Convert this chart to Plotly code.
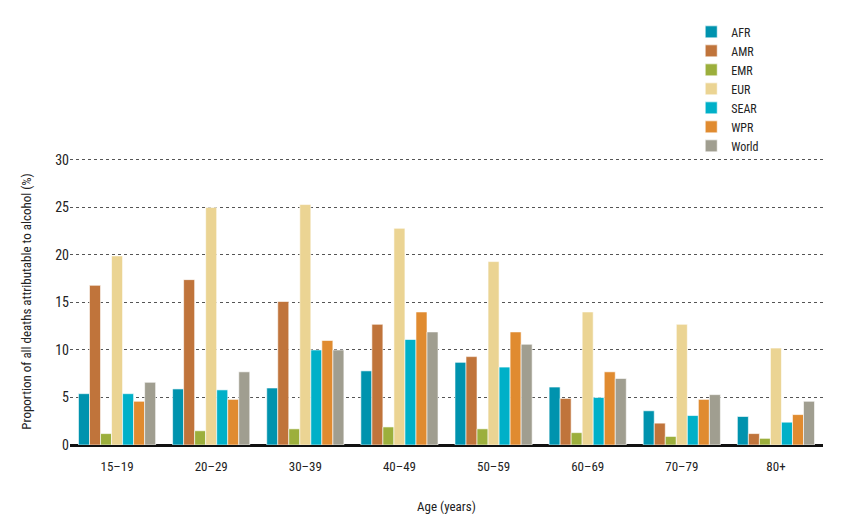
import plotly.graph_objects as go

ages = ["15–19", "20–29", "30–39", "40–49", "50–59", "60–69", "70–79", "80+"]
AFR = [5.4, 5.9, 6.0, 7.8, 8.7, 6.1, 3.6, 3.0]
AMR = [16.8, 17.4, 15.1, 12.7, 9.3, 4.9, 2.3, 1.2]
EMR = [1.2, 1.5, 1.7, 1.9, 1.7, 1.3, 0.9, 0.7]
EUR = [19.9, 25.0, 25.3, 22.8, 19.3, 14.0, 12.7, 10.2]
SEAR = [5.4, 5.8, 10.0, 11.1, 8.2, 5.0, 3.1, 2.4]
WPR = [4.6, 4.8, 11.0, 14.0, 11.9, 7.7, 4.8, 3.2]
World = [6.6, 7.7, 10.0, 11.9, 10.6, 7.0, 5.3, 4.6]

series = [
    ("AFR", AFR, "#0093AE"),
    ("AMR", AMR, "#C0743B"),
    ("EMR", EMR, "#9CAF3C"),
    ("EUR", EUR, "#EBD493"),
    ("SEAR", SEAR, "#00B0C8"),
    ("WPR", WPR, "#E08B30"),
    ("World", World, "#A09E90"),
]

FONT = "Liberation Sans Narrow, Roboto Condensed, Roboto, sans-serif"

fig = go.Figure()
for name, vals, col in series:
    fig.add_trace(go.Bar(
        name=name, x=ages, y=vals,
        marker=dict(color=col, line=dict(color="rgba(255,255,255,0.6)", width=1)),
    ))

fig.update_layout(
    width=845, height=527,
    barmode="group", bargap=0.18, bargroupgap=0,
    plot_bgcolor="white", paper_bgcolor="white",
    margin=dict(l=62, r=30, t=150, b=90, autoexpand=False),
    font=dict(family=FONT, size=13, color="#222222"),
    legend=dict(x=0.825, y=1.49, xanchor="left", yanchor="top",
                font=dict(family=FONT, size=12, color="#222222"),
                itemwidth=30, tracegroupgap=0, bgcolor="rgba(0,0,0,0)"),
    xaxis=dict(
        showgrid=False, showline=False, ticks="",
        ticklabelstandoff=12,
        tickfont=dict(family=FONT, size=13),
        title=dict(text="Age (years)", font=dict(family=FONT, size=13), standoff=28),
    ),
    yaxis=dict(
        range=[0, 30.2], dtick=5, showgrid=True,
        gridcolor="#555555", griddash="dot", gridwidth=1,
        zeroline=True, zerolinecolor="#111111", zerolinewidth=2.5,
        showline=False, ticks="",
        tickfont=dict(family=FONT, size=14),
        title=dict(text="Proportion of all deaths attributable to alcohol (%)",
                   font=dict(family=FONT, size=13), standoff=20),
    ),
)

fig.write_html("out.html")
